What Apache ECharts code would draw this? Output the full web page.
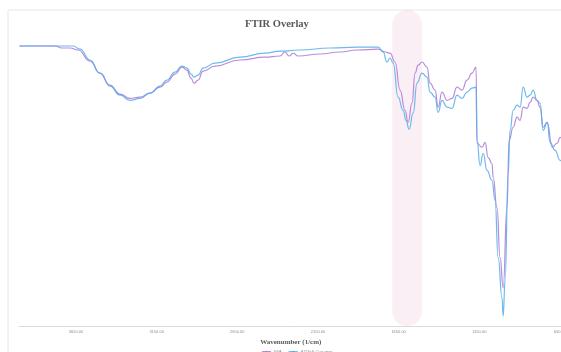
<!DOCTYPE html>
<html>
<head>
<meta charset="utf-8">
<script src="https://cdn.jsdelivr.net/npm/echarts@6/dist/echarts.min.js"></script>
<style>
  html, body { margin: 0; padding: 0; background: #ffffff; overflow: hidden; width: 561px; height: 352px; }
  #chart { width: 600px; height: 352px; }
</style>
</head>
<body>
<div id="chart"></div>
<script>
// Spectrum names, tick positions and the highlighted band (cm^-1)
const seriesNames = ['PVA', 'AZ/ZnS Curcumin'];
const tickLabels = [3650, 3150, 2650, 2150, 1650, 1150, 650];
const bandRange = [1690, 1505];

// First spectrum: wavenumber (1/cm) and transmittance (%)
const pvaWavenumber = [4000, 3873, 3780, 3737, 3687, 3637, 3563, 3501, 3439, 3377, 3315, 3253, 3191, 3129, 3086, 3036, 2993, 2962, 2937, 2918, 2893, 2862, 2788, 2633, 2478, 2385, 2354, 2329, 2304, 2273, 2137, 2013, 1907, 1777, 1734, 1703, 1672, 1641, 1610, 1591, 1567, 1548, 1529, 1505, 1474, 1455, 1424, 1405, 1381, 1350, 1319, 1288, 1257, 1226, 1195, 1170, 1164, 1133, 1114, 1095, 1071, 1064, 1040, 1021, 1002, 978, 965, 940, 916, 897, 878, 854, 835, 816, 792, 773, 754, 729, 698, 667, 649, 630];
const pvaTransmittance = [97.9, 97.9, 97.9, 97.2, 97.2, 96.5, 92.6, 88.4, 84.2, 81.1, 79.6, 80.0, 81.4, 83.5, 85.3, 88.1, 90.5, 89.5, 86.7, 84.9, 86.0, 89.1, 90.9, 93.0, 94.0, 94.4, 95.8, 94.4, 95.4, 94.4, 95.1, 95.8, 96.5, 96.8, 95.8, 95.4, 92.3, 82.5, 75.4, 71.2, 77.9, 88.4, 91.2, 92.3, 90.5, 84.9, 82.5, 76.5, 81.8, 78.9, 79.6, 83.5, 82.5, 86.0, 88.4, 90.5, 63.9, 62.5, 64.2, 58.9, 56.8, 51.9, 41.4, 23.9, 13.3, 41.4, 64.9, 69.5, 73.0, 71.9, 76.5, 76.1, 78.2, 80.0, 78.9, 76.5, 69.5, 71.2, 62.5, 63.9, 66.0, 63.2];

// Second spectrum: wavenumber (1/cm) and transmittance (%)
const blendWavenumber = [4000, 3873, 3749, 3668, 3625, 3563, 3501, 3439, 3377, 3315, 3253, 3191, 3129, 3086, 3036, 2993, 2962, 2937, 2918, 2893, 2862, 2788, 2633, 2478, 2385, 2261, 2075, 1907, 1777, 1746, 1722, 1703, 1684, 1653, 1622, 1604, 1585, 1560, 1536, 1505, 1474, 1455, 1424, 1405, 1381, 1350, 1319, 1288, 1257, 1226, 1195, 1170, 1164, 1145, 1126, 1102, 1071, 1052, 1033, 1009, 1002, 990, 971, 959, 940, 916, 897, 878, 854, 835, 816, 792, 773, 754, 729, 711, 680, 649, 630];
const blendTransmittance = [97.9, 97.9, 97.9, 97.9, 96.8, 93.0, 88.4, 83.9, 80.7, 78.9, 79.6, 81.4, 83.9, 86.0, 88.8, 90.9, 90.2, 88.1, 87.0, 87.7, 90.2, 91.9, 94.0, 95.4, 96.1, 96.5, 97.2, 97.5, 97.5, 95.8, 92.3, 93.7, 91.9, 80.0, 75.4, 71.9, 68.8, 74.4, 84.9, 88.4, 87.0, 81.8, 80.0, 74.7, 78.9, 76.5, 76.1, 80.7, 79.6, 81.8, 83.2, 83.5, 64.9, 56.1, 60.4, 54.4, 50.9, 43.9, 23.9, 9.8, 3.5, 15.8, 53.3, 68.4, 75.4, 77.2, 76.5, 83.5, 80.0, 80.7, 82.5, 78.9, 77.9, 68.4, 71.2, 64.2, 61.4, 57.9, 57.2];

function pairs(xs, ys) {
  return xs.map((x, i) => [x, ys[i]]);
}

const chart = echarts.init(document.getElementById('chart'), null, { renderer: 'canvas' });

const serifFont = '"Liberation Serif", "DejaVu Serif", serif';

chart.setOption({
  animation: false,
  backgroundColor: '#ffffff',
  title: {
    text: 'FTIR Overlay',
    left: 240,
    top: 14,
    textStyle: {
      fontFamily: serifFont,
      fontWeight: 'bold',
      fontSize: 10.5,
      color: '#595959'
    }
  },
  legend: {
    data: seriesNames,
    left: 256,
    top: 345,
    itemWidth: 9,
    itemHeight: 3,
    itemGap: 6,
    textStyle: { fontSize: 4, color: '#8c8c8c', padding: [0, 0, 0, -2] }
  },
  grid: {
    left: 19.5,
    right: 32,
    top: 40,
    bottom: 26
  },
  xAxis: {
    type: 'value',
    inverse: true,
    min: 600,
    max: 4000,
    name: 'Wavenumber (1/cm)',
    nameLocation: 'middle',
    nameGap: 11,
    nameTextStyle: {
      fontFamily: serifFont,
      fontWeight: 'bold',
      fontSize: 7,
      color: '#595959',
      padding: [0, 6, 0, 0]
    },
    axisLine: { show: true, lineStyle: { color: '#d9d9d9', width: 1 } },
    axisTick: { show: false },
    splitLine: { show: false },
    axisLabel: {
      customValues: tickLabels,
      fontSize: 4,
      color: '#8c8c8c',
      margin: 4,
      formatter: v => Number(v).toFixed(2)
    }
  },
  yAxis: {
    type: 'value',
    min: 0,
    max: 100,
    show: false,
    splitLine: { show: false }
  },
  series: [
    {
      name: seriesNames[0],
      type: 'line',
      data: pairs(pvaWavenumber, pvaTransmittance),
      showSymbol: false,
      symbol: 'none',
      smooth: 0.5,
      smoothMonotone: 'x',
      lineStyle: { color: '#b27fd8', width: 1.2, opacity: 0.9 },
      itemStyle: { color: '#b27fd8' },
      z: 3
    },
    {
      name: seriesNames[1],
      type: 'line',
      data: pairs(blendWavenumber, blendTransmittance),
      showSymbol: false,
      symbol: 'none',
      smooth: 0.5,
      smoothMonotone: 'x',
      lineStyle: { color: '#55aee8', width: 1.2, opacity: 0.85 },
      itemStyle: { color: '#55aee8' },
      z: 4
    }
  ]
});

// Highlighted band and outer frame, positioned through the axis scale
const bandLeft = chart.convertToPixel({ gridIndex: 0 }, [bandRange[0], 0])[0];
const bandRight = chart.convertToPixel({ gridIndex: 0 }, [bandRange[1], 0])[0];
const bandWidth = bandRight - bandLeft;

chart.setOption({
  graphic: [
    {
      id: 'frame',
      type: 'rect',
      silent: true,
      z: 0,
      shape: { x: 8, y: 10, width: 600, height: 400 },
      style: { fill: 'none', stroke: '#e6e6e6', lineWidth: 1 }
    },
    {
      id: 'band',
      type: 'rect',
      silent: true,
      z: 0,
      shape: { x: bandLeft, y: 10, width: bandWidth, height: 316, r: bandWidth / 2 },
      style: { fill: 'rgba(236, 176, 210, 0.2)' }
    }
  ]
});
</script>
</body>
</html>
